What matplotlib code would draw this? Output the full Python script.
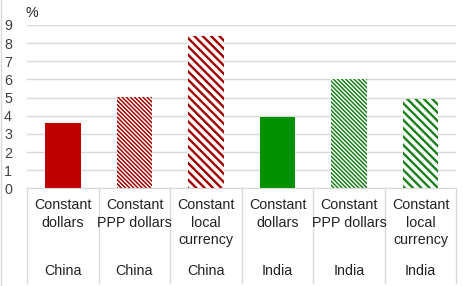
import matplotlib
matplotlib.use("Agg")
import matplotlib.pyplot as plt
from matplotlib.lines import Line2D

# data
categories = ["Constant\ndollars", "Constant\nPPP dollars", "Constant\nlocal\ncurrency",
              "Constant\ndollars", "Constant\nPPP dollars", "Constant\nlocal\ncurrency"]
countries = ["China", "China", "China", "India", "India", "India"]
values = [3.6, 5.05, 8.4, 3.95, 6.05, 4.9]
yticks = list(range(0, 10))

RED, RED_H = "#c00000", "#a00000"
GREEN, GREEN_H = "#009000", "#1a801a"
FONT = "Liberation Sans"
FS = 10.3

W, H, DPI = 464, 286, 100
fig = plt.figure(figsize=(W / DPI, H / DPI), dpi=DPI)
x0, x1, ytop, ybot = 27.25, 456.25, 25.0, 188.3
ax = fig.add_axes([x0 / W, 1 - ybot / H, (x1 - x0) / W, (ybot - ytop) / H])

DENSE, WIDE = "\\" * 8, "\\" * 4
styles = [
    dict(color=RED, hatch=None, hlw=None),
    dict(color="white", edgecolor=RED_H, hatch=DENSE, hlw=1.1),
    dict(color="white", edgecolor=RED_H, hatch=WIDE, hlw=1.7),
    dict(color=GREEN, hatch=None, hlw=None),
    dict(color="white", edgecolor=GREEN_H, hatch=DENSE, hlw=1.1),
    dict(color="white", edgecolor=GREEN_H, hatch=WIDE, hlw=1.7),
]

for i, (v, st) in enumerate(zip(values, styles)):
    hlw = st["hlw"] if st["hlw"] else 1.0
    with plt.rc_context({"hatch.linewidth": hlw}):
        b = ax.bar(i, v, width=0.5, color=st["color"],
                   edgecolor=st.get("edgecolor", st["color"]),
                   hatch=st["hatch"], linewidth=0, zorder=3)
    for p in b:
        if hasattr(p, "set_hatch_linewidth"):
            p.set_hatch_linewidth(hlw)

ax.set_xlim(-0.5, len(values) - 0.5)
ax.set_ylim(0, 9)
ax.set_yticks(yticks)
ax.set_yticklabels([str(t) for t in yticks], fontsize=FS, family=FONT, color="#404040")
ax.tick_params(axis="y", length=0, pad=11)
ax.set_xticks([])
ax.grid(axis="y", color="#d9d9d9", linewidth=1.0, zorder=0)
for s in ("left", "right", "top"):
    ax.spines[s].set_visible(False)
ax.spines["bottom"].set_color("#d9d9d9")
ax.spines["bottom"].set_zorder(4)

# category separators running down through the label area
sep_bottom = -(283 - ybot) / (ybot - ytop)
for k in range(len(values) + 1):
    ax.add_line(Line2D([k - 0.5, k - 0.5], [0, sep_bottom * 9], color="#d9d9d9",
                       linewidth=1.0, clip_on=False))

# two-level category labels
for i, (c, country) in enumerate(zip(categories, countries)):
    ax.text(i, -(198 - ybot) / (ybot - ytop) * 9, c, ha="center", va="top",
            fontsize=FS, family=FONT, color="#222222", linespacing=1.32, clip_on=False)
    ax.text(i, -(271 - ybot) / (ybot - ytop) * 9, country, ha="center", va="center",
            fontsize=FS, family=FONT, color="#222222", clip_on=False)

fig.text(26 / W, 1 - 13 / H, "%", ha="left", va="center", fontsize=FS,
         family=FONT, color="#222222")
fig.add_artist(Line2D([1 / W, 1 / W], [0, 1], color="#d9d9d9", linewidth=1.0))

fig.savefig("out.png", dpi=DPI)
